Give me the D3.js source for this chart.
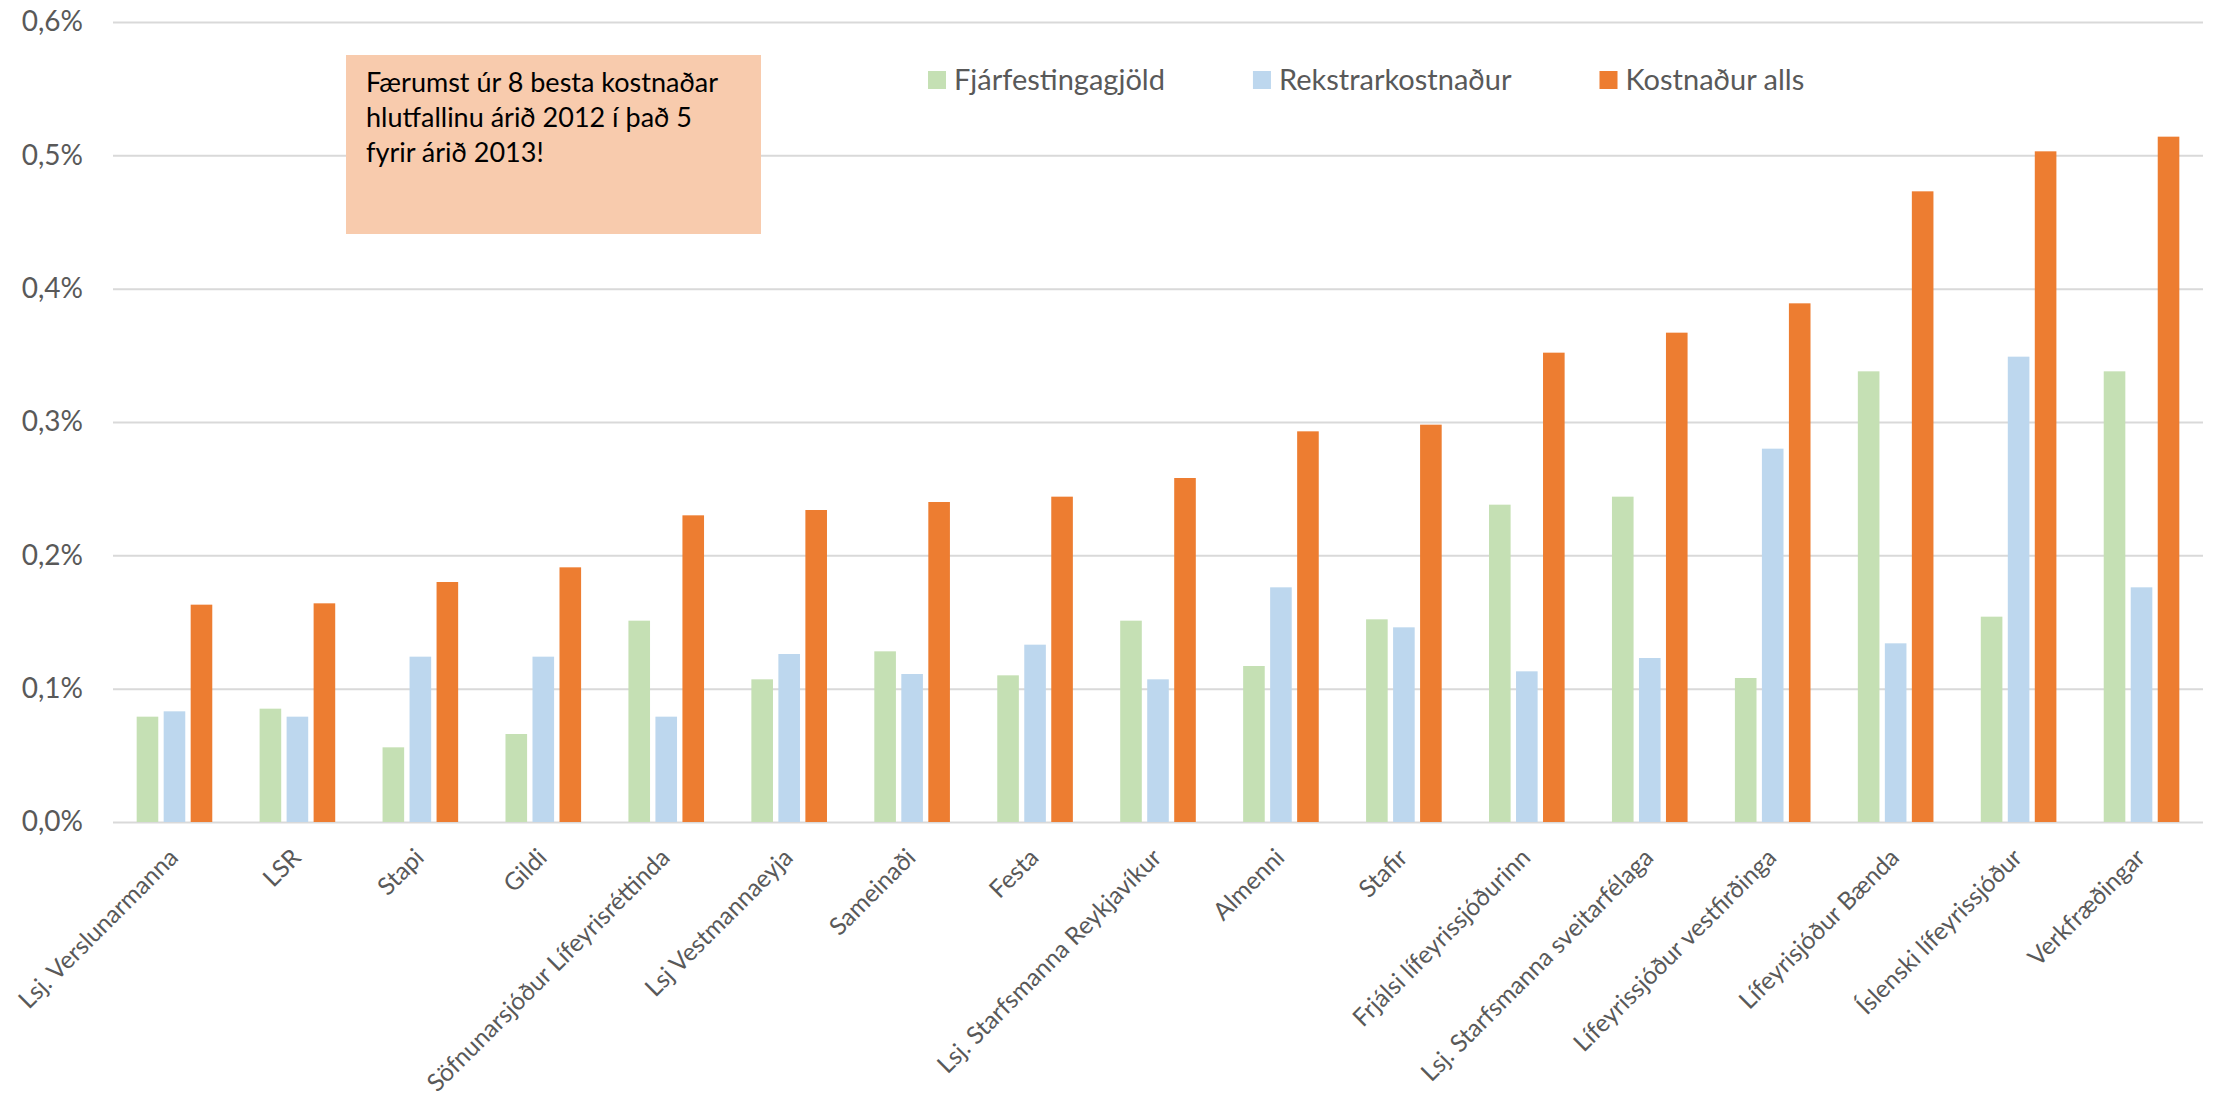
<!DOCTYPE html>
<html>
<head>
<meta charset="utf-8">
<script src="https://cdn.jsdelivr.net/npm/d3@7"></script>
<style>
  body { margin: 0; background: #fff; }
  text { font-family: Lato, 'Open Sans', sans-serif; }
</style>
</head>
<body>
<div class="chart-container"></div>
<script>
// pension funds, sorted by total cost
let categories = [
  'Lsj. Verslunarmanna', 'LSR', 'Stapi', 'Gildi',
  'Söfnunarsjóður Lífeyrisréttinda', 'Lsj Vestmannaeyja', 'Sameinaði', 'Festa',
  'Lsj. Starfsmanna Reykjavíkur', 'Almenni', 'Stafir', 'Frjálsi lífeyrissjóðurinn',
  'Lsj. Starfsmanna sveitarfélaga', 'Lífeyrissjóður vestfirðinga', 'Lífeyrisjóður Bænda',
  'Íslenski lífeyrissjóður', 'Verkfræðingar'
]

let seriesNames = ['Fjárfestingagjöld', 'Rekstrarkostnaður', 'Kostnaður alls']

// values in %
let fjarfestingagjold = [0.079, 0.085, 0.056, 0.066, 0.151, 0.107, 0.128, 0.110, 0.151, 0.117, 0.152, 0.238, 0.244, 0.108, 0.338, 0.154, 0.338]
let rekstrarkostnadur = [0.083, 0.079, 0.124, 0.124, 0.079, 0.126, 0.111, 0.133, 0.107, 0.176, 0.146, 0.113, 0.123, 0.280, 0.134, 0.349, 0.176]
let kostnadurAlls = [0.163, 0.164, 0.180, 0.191, 0.230, 0.234, 0.240, 0.244, 0.258, 0.293, 0.298, 0.352, 0.367, 0.389, 0.473, 0.503, 0.514]

let yTicks = [0, 0.1, 0.2, 0.3, 0.4, 0.5, 0.6]

let noteLines = [
  'Færumst úr 8 besta kostnaðar',
  'hlutfallinu árið 2012 í það 5',
  'fyrir árið 2013!'
]

let color = d3.scaleOrdinal()
  .domain(seriesNames)
  .range([
    '#C5E0B4', // green
    '#BDD7EE', // blue
    '#ED7D31'  // orange
  ])

let W = 2219, H = 1098
let margin = { top: 22, right: 16, bottom: 276, left: 113 }

let svg = d3.select('.chart-container')
  .append('svg')
  .attr('width', W)
  .attr('height', H)

let x0 = d3.scaleBand()
  .domain(categories)
  .range([margin.left, W - margin.right])

let groupW = x0.bandwidth() * 0.615
let x1 = d3.scaleBand()
  .domain(seriesNames)
  .range([(x0.bandwidth() - groupW) / 2, (x0.bandwidth() + groupW) / 2])
  .paddingInner(0.2)

let y = d3.scaleLinear()
  .domain([0, 0.6])
  .range([H - margin.bottom, margin.top])

let isl = d3.formatLocale({ decimal: ',', thousands: '.', grouping: [3], currency: ['', ''] })
let fmt = isl.format('.1f')

// gridlines + y labels
let yAxis = svg.append('g')
  .attr('transform', `translate(${margin.left},0)`)
  .call(d3.axisLeft(y)
    .tickValues(yTicks)
    .tickSize(-(W - margin.left - margin.right))
    .tickPadding(30)
    .tickFormat(d => fmt(d) + '%'))

yAxis.select('.domain').remove()
yAxis.selectAll('.tick line')
  .attr('stroke', '#D9D9D9')
  .attr('stroke-width', 2)
yAxis.selectAll('.tick text')
  .attr('fill', '#595959')
  .style('font-size', '28px')

// bars
let rows = categories.map((c, i) => ({
  name: c,
  values: [fjarfestingagjold[i], rekstrarkostnadur[i], kostnadurAlls[i]]
}))

let g = svg.selectAll('.group')
  .data(rows)
  .enter()
  .append('g')
  .attr('class', 'group')
  .attr('transform', d => `translate(${x0(d.name)},0)`)

g.selectAll('rect')
  .data(d => d.values.map((v, j) => ({ key: seriesNames[j], value: v })))
  .enter()
  .append('rect')
  .attr('x', d => x1(d.key))
  .attr('width', x1.bandwidth())
  .attr('y', d => y(d.value))
  .attr('height', d => y(0) - y(d.value))
  .attr('fill', d => color(d.key))

// x labels, rotated
let xAxis = svg.append('g')
  .attr('transform', `translate(0,${y(0)})`)
  .call(d3.axisBottom(x0).tickSize(0).tickPadding(0))

xAxis.select('.domain').remove()
xAxis.selectAll('.tick text')
  .attr('fill', '#595959')
  .style('font-size', '24.5px')
  .attr('text-anchor', 'end')
  .attr('dy', '0.35em')
  .attr('transform', 'translate(-1,31) rotate(-45)')

// legend
let legend = svg.append('g')
let lx = 928
seriesNames.forEach(function (name) {
  legend.append('rect')
    .attr('x', lx)
    .attr('y', 71)
    .attr('width', 18)
    .attr('height', 18)
    .attr('fill', color(name))
  let t = legend.append('text')
    .attr('x', lx + 26)
    .attr('y', 90)
    .attr('fill', '#595959')
    .style('font-size', '29px')
    .text(name)
  lx += 26 + t.node().getComputedTextLength() + 88
})

// note box
let note = svg.append('g')
note.append('rect')
  .attr('x', 346)
  .attr('y', 55)
  .attr('width', 415)
  .attr('height', 179)
  .attr('fill', '#F8CBAD')

note.selectAll('text')
  .data(noteLines)
  .enter()
  .append('text')
  .attr('x', 366)
  .attr('y', (d, i) => 92 + i * 35)
  .attr('fill', '#000')
  .style('font-size', '27px')
  .text(d => d)
</script>
</body>
</html>
